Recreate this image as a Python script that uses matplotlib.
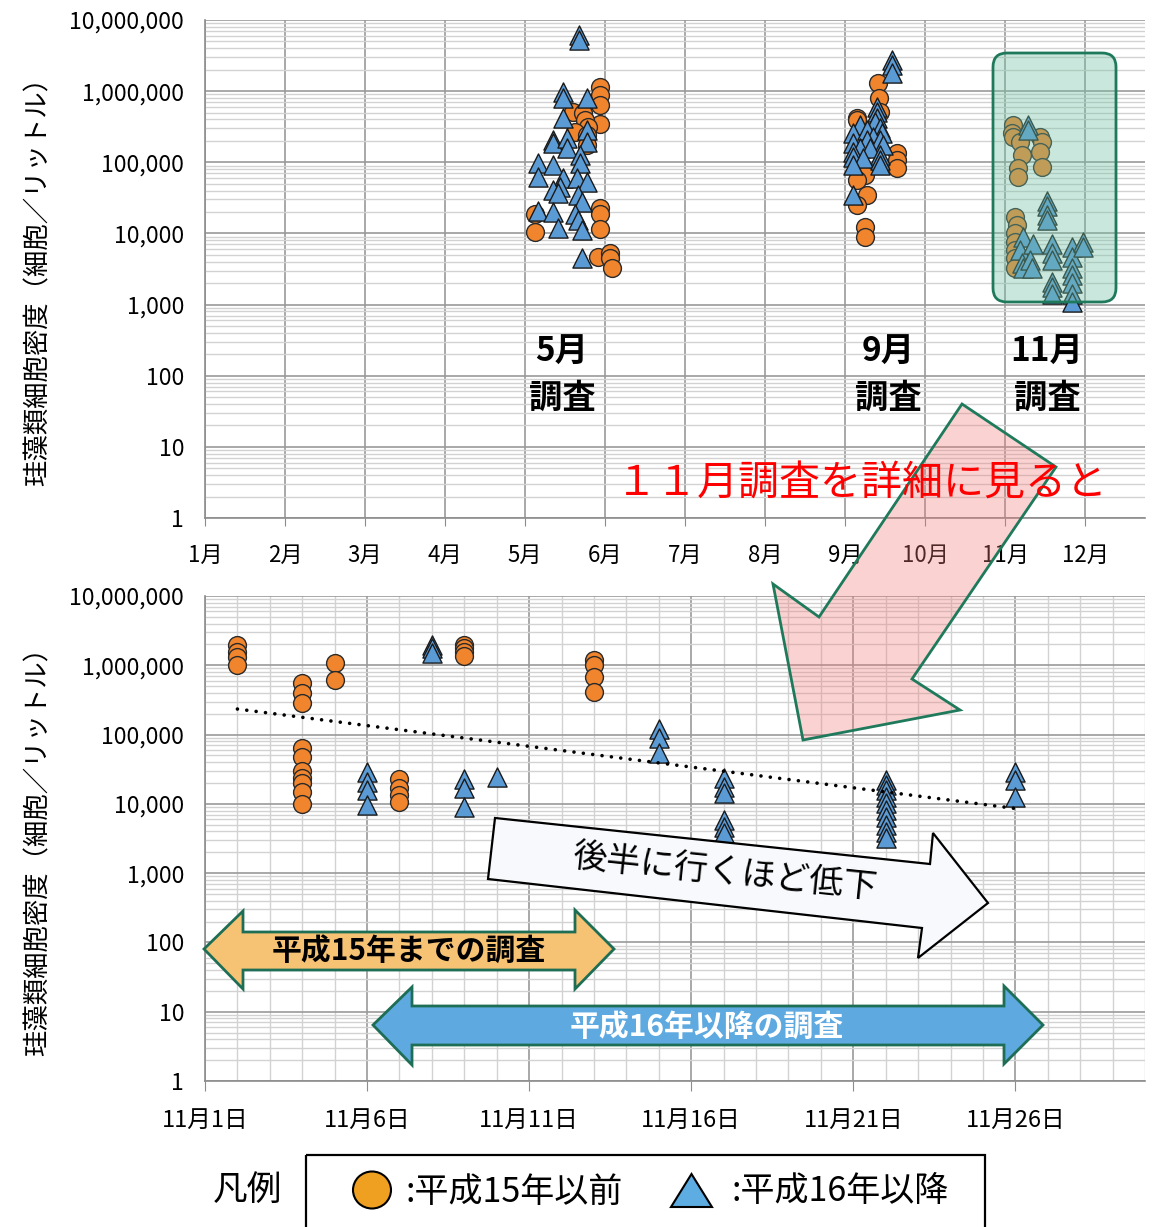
import numpy as np
import matplotlib
matplotlib.use("Agg")
import matplotlib.pyplot as plt
from matplotlib.patches import Polygon, FancyBboxPatch, Ellipse, Rectangle
from matplotlib.ticker import FuncFormatter, FixedLocator, NullFormatter

plt.rcParams['font.family'] = ['Noto Sans CJK JP', 'DejaVu Sans']

# ---- 上段: 月別 (月を数値で表す) ----
top_circle_month = [5.94, 5.94, 5.94, 5.94, 5.60, 5.725, 5.75, 5.79, 5.63, 5.78, 5.78,
                    5.94, 5.94, 5.94, 5.125, 5.125, 5.91, 6.06, 6.06, 6.09,
                    9.41, 9.43, 9.44, 9.15, 9.15, 9.65, 9.65, 9.65, 9.25, 9.15, 9.275, 9.15, 9.25, 9.25,
                    11.1, 11.09, 11.1, 11.19, 11.44, 11.46, 11.44, 11.21, 11.46, 11.16, 11.16,
                    11.125, 11.15, 11.125, 11.125, 11.125, 11.125, 11.125]
top_circle_val = [1.14e6, 8.8e5, 6.4e5, 3.5e5, 5.1e5, 4.9e5, 3.9e5, 3.1e5, 2.7e5, 2.4e5, 1.75e5,
                  2.3e4, 1.9e4, 1.15e4, 1.9e4, 1.04e4, 4.6e3, 5.3e3, 4.5e3, 3.3e3,
                  1.3e6, 8.0e5, 5.1e5, 4.2e5, 3.9e5, 1.35e5, 1.07e5, 8.3e4, 6.6e4, 5.6e4, 3.5e4, 2.5e4, 1.23e4, 8.9e3,
                  3.3e5, 2.6e5, 2.3e5, 1.94e5, 2.3e5, 1.9e5, 1.4e5, 1.27e5, 8.7e4, 8.3e4, 6.2e4,
                  1.7e4, 1.3e4, 1.0e4, 7.6e3, 5.8e3, 4.5e3, 3.3e3]

top_tri_month = [5.675, 5.675, 5.475, 5.475, 5.775, 5.475, 5.35, 5.35, 5.525, 5.525, 5.775, 5.775,
                 5.16, 5.16, 5.35, 5.69, 5.69, 5.475, 5.44, 5.35, 5.65, 5.775, 5.41, 5.66, 5.71,
                 5.16, 5.35, 5.63, 5.66, 5.71, 5.41, 5.71,
                 9.59, 9.59, 9.59, 9.40, 9.40, 9.40, 9.375, 9.19, 9.1, 9.275, 9.44, 9.46, 9.35, 9.275,
                 9.1, 9.44, 9.19, 9.475, 9.31, 9.1, 9.44, 9.1, 9.225, 9.44, 9.1, 9.44, 9.1,
                 11.29, 11.29, 11.525, 11.525, 11.525, 11.525, 11.225, 11.19, 11.21, 11.225,
                 11.35, 11.31, 11.34, 11.59, 11.59, 11.59, 11.59, 11.59, 11.59,
                 11.84, 11.84, 11.84, 11.84, 11.84, 11.84, 11.84, 11.975, 11.975]
top_tri_val = [6.1e6, 5.2e6, 9.7e5, 8.0e5, 8.0e5, 4.2e5, 2.05e5, 1.86e5, 2.2e5, 1.6e5, 2.8e5, 1.9e5,
               9.8e4, 6.2e4, 9.1e4, 1.26e5, 9.8e4, 6.0e4, 4.5e4, 4.1e4, 6.0e4, 5.3e4, 3.7e4, 3.5e4, 2.75e4,
               2.1e4, 2.0e4, 1.9e4, 1.54e4, 1.1e4, 1.2e4, 4.5e3,
               2.7e6, 2.33e6, 1.8e6, 6.0e5, 5.1e5, 4.2e5, 3.7e5, 3.3e5, 2.6e5, 2.8e5, 3.0e5, 2.6e5, 2.3e5, 2.05e5,
               1.86e5, 2.05e5, 1.6e5, 1.75e5, 1.6e5, 1.4e5, 1.26e5, 1.2e5, 1.15e5, 1.07e5, 9.1e4, 9.1e4, 3.5e4,
               3.3e5, 2.8e5, 2.9e4, 2.4e4, 1.8e4, 1.55e4, 8.9e3, 5.8e3, 3.9e3, 3.3e3,
               7.2e3, 4.3e3, 3.3e3, 7.2e3, 5.3e3, 4.3e3, 2.1e3, 1.74e3, 1.4e3,
               6.4e3, 4.6e3, 3.3e3, 2.6e3, 2.0e3, 1.4e3, 1.1e3, 7.6e3, 6.4e3]

month_ticks = list(range(1, 13))
month_labels = [f'{m}月' for m in month_ticks]

# ---- 下段: 11月の日別 ----
nov_circle_day = [2, 2, 2, 2,
                  4, 4, 4, 4, 4, 4, 4, 4, 4, 4,
                  5, 5,
                  7, 7, 7, 7,
                  9, 9, 9, 9,
                  13, 13, 13, 13]
nov_circle_val = [1.94e6, 1.56e6, 1.32e6, 1.0e6,
                  5.5e5, 3.95e5, 2.9e5, 6.3e4, 4.8e4, 3.0e4, 2.4e4, 2.0e4, 1.46e4, 1.0e4,
                  1.07e6, 6.1e5,
                  2.3e4, 1.7e4, 1.35e4, 1.07e4,
                  1.94e6, 1.76e6, 1.54e6, 1.35e6,
                  1.18e6, 1.0e6, 6.7e5, 4.1e5]

nov_tri_day = [6, 6, 6, 6,
               8, 8, 8,
               9, 9, 9,
               10,
               15, 15, 15,
               17, 17, 17, 17, 17, 17,
               22, 22, 22, 22, 22, 22, 22, 22, 22, 22,
               26, 26, 26]
nov_tri_val = [2.9e4, 2.1e4, 1.6e4, 9.7e3,
               1.94e6, 1.76e6, 1.49e6,
               2.3e4, 1.7e4, 9.0e3,
               2.45e4,
               1.22e5, 8.8e4, 5.5e4,
               2.37e4, 1.76e4, 1.44e4, 5.9e3, 4.66e3, 3.8e3,
               2.2e4, 1.88e4, 1.6e4, 1.26e4, 1.03e4, 8.2e3, 6.5e3, 5.0e3, 3.9e3, 3.2e3,
               2.9e4, 2.2e4, 1.26e4]

day_ticks = [1, 6, 11, 16, 21, 26]
day_labels = [f'11月{d}日' for d in day_ticks]

ylabel = '珪藻類細胞密度（細胞／リットル）'

W, H = 1161, 1227
fig = plt.figure(figsize=(W / 100, H / 100), dpi=100)


def px_rect(l, t, r, b):
    return [l / W, 1 - b / H, (r - l) / W, (b - t) / H]


def style_log(ax):
    ax.set_yscale('log')
    ax.set_ylim(1, 1e7)
    ax.yaxis.set_major_locator(FixedLocator([10 ** i for i in range(8)]))
    ax.yaxis.set_minor_locator(FixedLocator([k * 10 ** i for i in range(7) for k in range(2, 10)]))
    ax.yaxis.set_minor_formatter(NullFormatter())
    ax.yaxis.set_major_formatter(FuncFormatter(lambda v, p: f'{int(round(v)):,}'))
    ax.grid(which='major', axis='y', color='#9a9a9a', lw=1.2)
    ax.grid(which='minor', axis='y', color='#d2d2d2', lw=1.0)
    ax.tick_params(axis='y', which='both', length=0, pad=15, labelsize=16.5)
    for s in ['top', 'right']:
        ax.spines[s].set_visible(False)
    ax.spines['left'].set_color('#8c8c8c')
    ax.spines['bottom'].set_color('#8c8c8c')
    ax.spines['left'].set_linewidth(1.2)
    ax.spines['bottom'].set_linewidth(1.2)
    ax.set_axisbelow(True)


circ_kw = dict(marker='o', s=165, facecolor='#F0852D', edgecolor='#2a2a2a', linewidths=1.0, zorder=3)
tri_kw = dict(marker='^', s=190, facecolor='#5B9BD5', edgecolor='#1a1a1a', linewidths=1.0, zorder=4)

# 上段
ax1 = fig.add_axes(px_rect(205, 20, 1145, 518))
style_log(ax1)
ax1.set_xlim(1, 12.75)
ax1.set_xticks(month_ticks)
ax1.set_xticklabels(month_labels)
ax1.tick_params(axis='x', length=6, color='#8c8c8c', pad=13, labelsize=16)
ax1.grid(which='major', axis='x', color='#9a9a9a', lw=1.2)
ax1.scatter(top_circle_month, top_circle_val, **circ_kw)
ax1.scatter(top_tri_month, top_tri_val, **tri_kw)

# 下段
ax2 = fig.add_axes(px_rect(205, 596, 1145, 1081))
style_log(ax2)
ax2.set_xlim(1, 30)
ax2.set_xticks(day_ticks)
ax2.set_xticklabels(day_labels)
ax2.xaxis.set_minor_locator(FixedLocator(list(range(1, 31))))
ax2.tick_params(axis='x', which='major', length=7, color='#8c8c8c', pad=13, labelsize=17)
ax2.tick_params(axis='x', which='minor', length=0)
ax2.grid(which='major', axis='x', color='#9a9a9a', lw=1.2)
ax2.grid(which='minor', axis='x', color='#d2d2d2', lw=1.0)
ax2.scatter(nov_circle_day, nov_circle_val, **circ_kw)
ax2.scatter(nov_tri_day, nov_tri_val, **tri_kw)

# 指数近似の近似曲線
all_day = np.array(nov_circle_day + nov_tri_day, dtype=float)
all_val = np.array(nov_circle_val + nov_tri_val)
b, a = np.polyfit(all_day, np.log10(all_val), 1)
td = np.linspace(all_day.min(), all_day.max(), 100)
ax2.plot(td, 10 ** (a + b * td), color='black', lw=2.6, ls=(0, (0.01, 2.6)),
         dash_capstyle='round', zorder=5)

fig.text(38 / W, 1 - 275 / H, ylabel, rotation=90, ha='center', va='center', fontsize=19)
fig.text(38 / W, 1 - 845 / H, ylabel, rotation=90, ha='center', va='center', fontsize=19)

# 注記用のレイヤー (ピクセル座標)
ov = fig.add_axes([0, 0, 1, 1], zorder=10)
ov.set_xlim(0, W)
ov.set_ylim(H, 0)
ov.axis('off')
ov.patch.set_alpha(0)

ov.add_patch(FancyBboxPatch((993, 53), 123, 249, boxstyle='round,pad=0,rounding_size=14',
                            fc=(0.45, 0.76, 0.64, 0.38), ec='#1f7a5c', lw=2))

for x, l1 in [(562, '5月'), (888, '9月'), (1047, '11月')]:
    ov.text(x, 352, l1, ha='center', va='center', fontsize=24, fontweight='bold')
    ov.text(x, 398, '調査', ha='center', va='center', fontsize=24, fontweight='bold')

ov.text(862, 483, '１１月調査を詳細に見ると', ha='center', va='center', fontsize=29.5, color='#ff0000')

pink = [(962, 404), (1056, 467), (912, 679), (960, 710), (803, 740), (773, 584), (819, 617)]
ov.add_patch(Polygon(pink, closed=True, fc=(0.94, 0.47, 0.47, 0.33), ec='#1f7a5c', lw=2, joinstyle='miter'))

white = [(495, 818), (930, 864), (933, 833), (988, 903), (918, 958), (922, 928), (488, 879)]
ov.add_patch(Polygon(white, closed=True, fc='#f7f9fc', ec='black', lw=1.6, joinstyle='miter'))
ov.text(725, 873, '後半に行くほど低下', ha='center', va='center', fontsize=24.5, rotation=-6)

orange = [(204, 949), (243, 911), (243, 932), (575, 932), (575, 910), (614, 949),
          (575, 989), (575, 970), (243, 970), (243, 989)]
ov.add_patch(Polygon(orange, closed=True, fc='#F6C375', ec='#1e6e56', lw=2, joinstyle='miter'))
ov.text(409, 951, '平成15年までの調査', ha='center', va='center', fontsize=21.5, fontweight='bold')

blue = [(373, 1025), (412, 987), (412, 1006), (1004, 1006), (1004, 986), (1043, 1025),
        (1004, 1064), (1004, 1045), (412, 1045), (412, 1065)]
ov.add_patch(Polygon(blue, closed=True, fc='#5DA9E0', ec='#1e6e56', lw=2, joinstyle='miter'))
ov.text(707, 1027, '平成16年以降の調査', ha='center', va='center', fontsize=21.5, fontweight='bold',
        color='white')

# 凡例
ov.text(247, 1190, '凡例', ha='center', va='center', fontsize=25)
ov.add_patch(Rectangle((306, 1155), 679, 90, fc='none', ec='black', lw=1.6))
ov.add_patch(Ellipse((372, 1190), 38, 37, fc='#F0A020', ec='black', lw=1.5))
ov.text(405, 1192, ':平成15年以前', ha='left', va='center', fontsize=24.5)
ov.add_patch(Polygon([(671, 1207), (712, 1207), (691.5, 1174)], closed=True,
                     fc='#5DADE2', ec='black', lw=1.5))
ov.text(731, 1192, ':平成16年以降', ha='left', va='center', fontsize=24.5)

fig.savefig('out.png', dpi=100)
